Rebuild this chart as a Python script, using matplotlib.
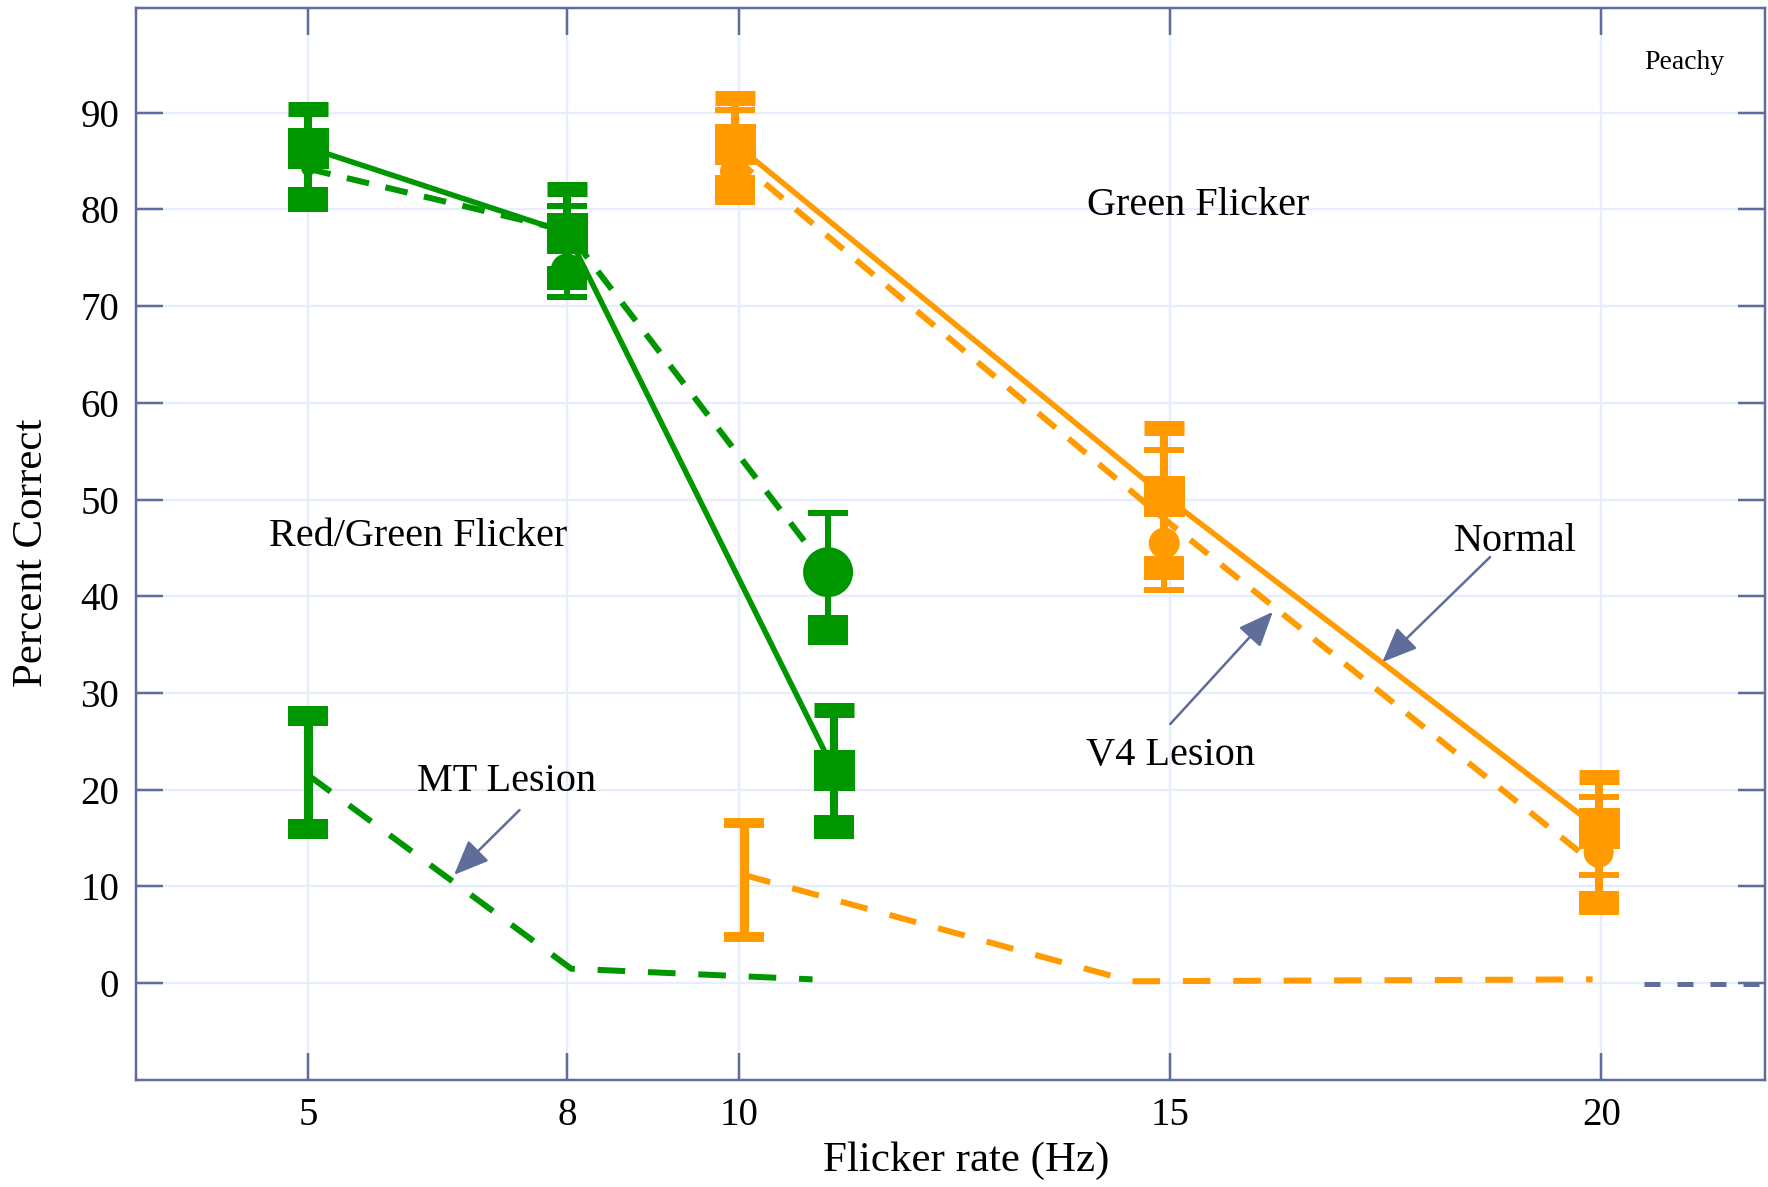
import matplotlib.pyplot as plt

plt.rcParams['font.family'] = ['Liberation Serif', 'DejaVu Serif']

# Red/Green Flicker (зелёный)
green_norm_x = [5, 8, 11.1]
green_norm_y = [86.4, 77.6, 22.0]
green_norm_lo = [81.0, 72.9, 16.2]
green_norm_hi = [90.4, 82.1, 28.3]

green_v4_x = [5, 8, 11.03]
green_v4_line = [84.2, 77.8, 42.5]
green_v4_y = [84.2, 73.8, 42.5]
green_v4_lo = [82.0, 71.0, 36.5]
green_v4_hi = [86.0, 80.4, 48.6]

green_mt_x = [5, 8.05, 10.85]
green_mt_y = [21.5, 1.5, 0.4]
green_mt_lo = [15.9]
green_mt_hi = [27.6]

# Green Flicker (оранжевый)
orange_norm_x = [9.95, 14.93, 19.97]
orange_norm_y = [86.8, 50.4, 16.0]
orange_norm_lo = [82.3, 42.9, 8.3]
orange_norm_hi = [91.5, 57.4, 21.3]

orange_v4_x = [9.95, 14.93, 19.97]
orange_v4_line = [85.3, 48.0, 12.0]
orange_v4_y = [83.9, 45.5, 13.5]
orange_v4_lo = [80.75, 40.7, 11.2]
orange_v4_hi = [90.3, 55.1, 19.3]

orange_mt_x = [10.05, 14.55, 19.9]
orange_mt_y = [11.2, 0.2, 0.4]
orange_mt_lo = [4.8]
orange_mt_hi = [16.55]

x_ticks = [5, 8, 10, 15, 20]
y_ticks = [0, 10, 20, 30, 40, 50, 60, 70, 80, 90]

GREEN = '#009600'
ORANGE = '#FF9B00'
AX = '#5E6D9A'
GRID = '#E6EEFB'
PX = 0.72  # пикселей -> пунктов при dpi=100

fig = plt.figure(figsize=(17.68, 11.87), dpi=100)
ax = fig.add_axes([0.0769, 0.0902, 0.9214, 0.9028])
ax.set_xlim(3.0, 21.9)
ax.set_ylim(-10, 100.8)


def caps(x, y, color, h_px):
    ax.plot(x, y, ls='none', marker='_', ms=40 * PX, mew=h_px * PX,
            color=color, zorder=5)


def stems(x, lo, hi, color, w_px):
    ax.vlines(x, lo, hi, color=color, lw=w_px * PX, zorder=4)


for c, nx, ny, nlo, nhi, vx, vline, vy, vlo, vhi, mx, my, mlo, mhi, big in [
    (GREEN, green_norm_x, green_norm_y, green_norm_lo, green_norm_hi,
     green_v4_x, green_v4_line, green_v4_y, green_v4_lo, green_v4_hi,
     green_mt_x, green_mt_y, green_mt_lo, green_mt_hi, [14, 32, 50]),
    (ORANGE, orange_norm_x, orange_norm_y, orange_norm_lo, orange_norm_hi,
     orange_v4_x, orange_v4_line, orange_v4_y, orange_v4_lo, orange_v4_hi,
     orange_mt_x, orange_mt_y, orange_mt_lo, orange_mt_hi, [30, 31, 30]),
]:
    # линии
    ax.plot(nx, ny, color=c, lw=5.5 * PX, zorder=3)
    ax.plot(vx, vline, color=c, lw=6 * PX, ls=(0, (3.8, 2.8)), zorder=3)
    ax.plot(mx, my, color=c, lw=6 * PX, ls=(0, (4.6, 3.8)), zorder=3)

    # V4 lesion: кружки, тонкие засечки
    stems(vx, vlo, vhi, c, 6)
    caps(vx, vhi, c, 6)
    caps(vx[:2], vlo[:2], c, 6)
    caps(vx[2:], vlo[2:], c, 6 if c == ORANGE else 30)
    ax.scatter(vx, vy, s=[(d * PX) ** 2 for d in big], color=c, zorder=6,
               linewidths=0)

    # Normal: квадраты, толстые засечки
    stems(nx, nlo, nhi, c, 8)
    caps(nx, nhi, c, 15)
    caps(nx, nlo, c, 24)
    ax.plot(nx, ny, ls='none', marker='s', ms=41 * PX, color=c, mew=0,
            zorder=7)

    # MT lesion: только планка погрешности в первой точке
    stems(mx[:1], mlo, mhi, c, 9)
    caps(mx[:1], mhi, c, 20 if c == GREEN else 10)
    caps(mx[:1], mlo, c, 20 if c == GREEN else 10)

# пунктир нуля справа
ax.plot([20.5, 21.9], [-0.1, -0.1], color=AX, lw=5 * PX, ls=(0, (3.2, 3.4)),
        zorder=3)

ax.set_xticks(x_ticks)
ax.set_yticks(y_ticks)
ax.grid(True, color=GRID, lw=2.4 * PX, zorder=0)
ax.set_axisbelow(True)
ax.tick_params(direction='in', length=27 * PX, width=2.5 * PX, color=AX,
               top=True, right=True, labelsize=28, pad=12)
for s in ax.spines.values():
    s.set_color(AX)
    s.set_linewidth(2.5 * PX)

ax.set_xlabel('Flicker rate (Hz)', fontsize=31, va='center')
ax.xaxis.set_label_coords(0.5095, -0.0756)
ax.set_ylabel('Percent Correct', fontsize=31, va='center')
ax.yaxis.set_label_coords(-0.064, 0.492)

txt = dict(fontsize=29, ha='center', va='center', zorder=8)
ax.text(15.32, 80.4, 'Green Flicker', **txt)
ax.text(6.27, 46.2, 'Red/Green Flicker', **txt)
ax.text(7.30, 20.9, 'MT Lesion', **txt)
ax.text(15.0, 23.5, 'V4 Lesion', **txt)
ax.text(19.0, 45.7, 'Normal', **txt)
ax.text(20.96, 95.2, 'Peachy', fontsize=20, ha='center', va='center')

arr = dict(arrowstyle='-|>,head_length=0.72,head_width=0.3', color=AX,
           lw=2.5 * PX, mutation_scale=30, shrinkA=0, shrinkB=0)
ax.annotate('', xy=(17.46, 33.2), xytext=(18.71, 44.06), arrowprops=arr)
ax.annotate('', xy=(16.19, 38.4), xytext=(15.0, 26.8), arrowprops=arr)
ax.annotate('', xy=(6.69, 11.2), xytext=(7.45, 17.9), arrowprops=arr)

fig.savefig('out.png', dpi=100)
